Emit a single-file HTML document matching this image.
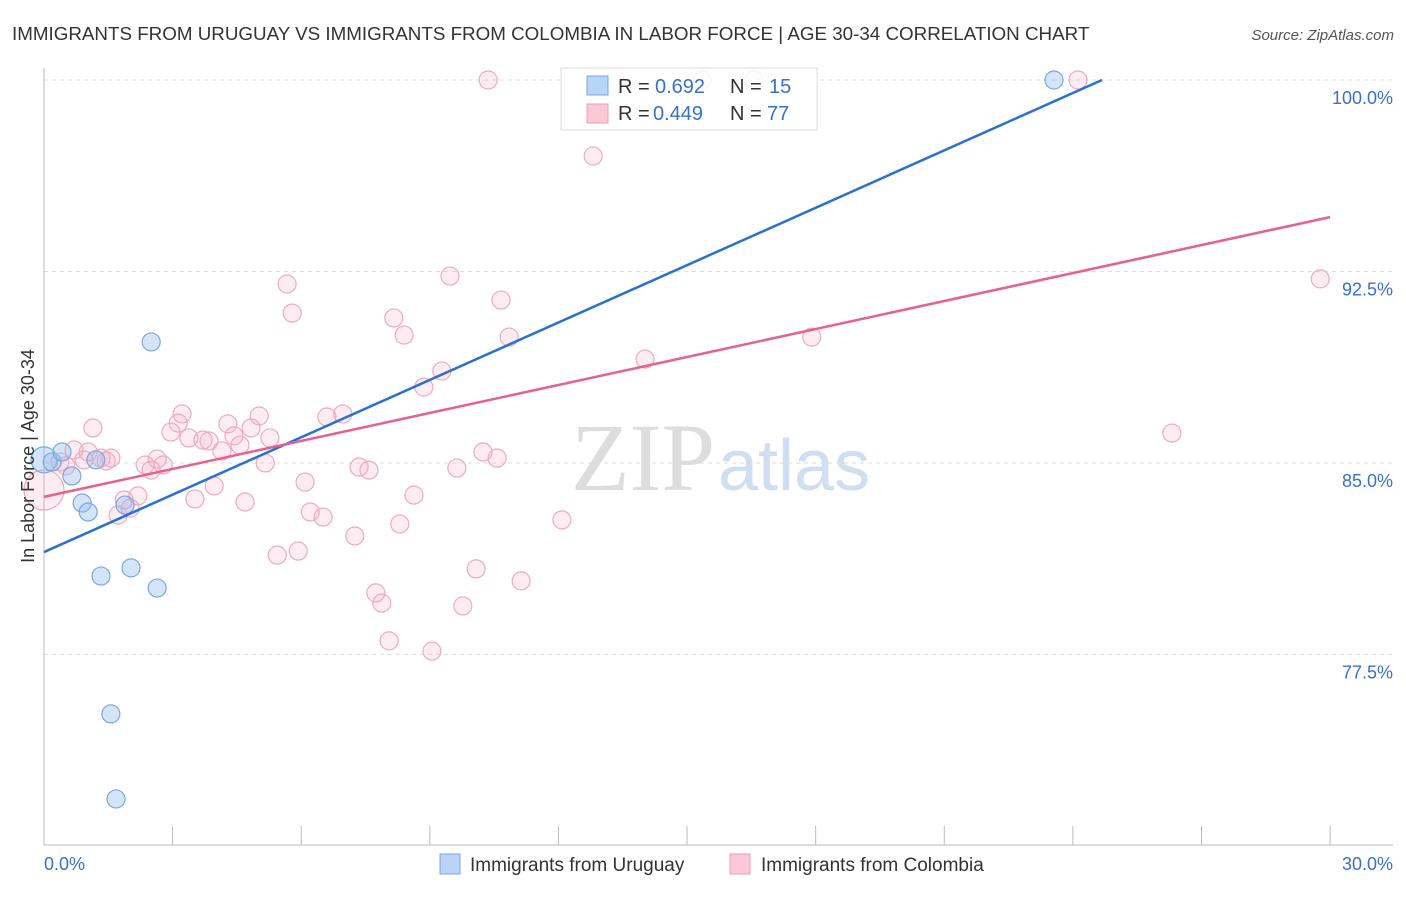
<!DOCTYPE html>
<html><head><meta charset="utf-8"><style>
body{margin:0;background:#fff;font-family:"Liberation Sans",sans-serif}
</style></head><body>
<svg width="1406" height="892" xmlns="http://www.w3.org/2000/svg" font-family="Liberation Sans, sans-serif">
<text x="12" y="40" font-size="18.8" fill="#333">IMMIGRANTS FROM URUGUAY VS IMMIGRANTS FROM COLOMBIA IN LABOR FORCE | AGE 30-34 CORRELATION CHART</text>
<text x="1394" y="40" font-size="15" fill="#555" font-style="italic" text-anchor="end">Source: ZipAtlas.com</text>
<text x="715" y="490" font-size="96" fill="#ddd" text-anchor="end" font-family="Liberation Serif, serif">ZIP</text>
<text x="718" y="490" font-size="72" fill="#d0def2">atlas</text>
<g id="grid"></g>
<g id="axes"></g>
<g id="pts"></g>
<g id="lines"></g>
<text transform="translate(34,456) rotate(-90)" font-size="18" fill="#333" text-anchor="middle">In Labor Force | Age 30-34</text>
<g>
<rect x="561" y="68" width="256" height="62" fill="#fff" fill-opacity="0.85" stroke="#ddd"/>
<rect x="587" y="76" width="21" height="19" fill="#b8d4f6" stroke="#7aa8e0"/>
<rect x="587" y="104" width="21" height="19" fill="#fcc8d8" stroke="#eba0b8"/>
<text x="618" y="93" font-size="20" fill="#333">R =</text>
<text x="655" y="93" font-size="20" fill="#3a70cc">0.692</text>
<text x="730" y="93" font-size="20" fill="#333">N =</text>
<text x="769" y="93" font-size="20" fill="#3a70cc">15</text>
<text x="618" y="120" font-size="20" fill="#333">R =</text>
<text x="653" y="120" font-size="20" fill="#3a70cc">0.449</text>
<text x="730" y="120" font-size="20" fill="#333">N =</text>
<text x="767" y="120" font-size="20" fill="#3a70cc">77</text>
</g>
<g>
<rect x="440" y="854" width="20" height="20" fill="#b8d4f6" stroke="#7aa8e0"/>
<text x="470" y="871" font-size="19" fill="#333">Immigrants from Uruguay</text>
<rect x="730" y="854" width="20" height="20" fill="#fcc8d8" stroke="#eba0b8"/>
<text x="761" y="871" font-size="19" fill="#333">Immigrants from Colombia</text>
</g>
</svg>
<script>
const yTicks=[100,92.5,85,77.5];
const yTickLabels=["100.0%","92.5%","85.0%","77.5%"];
const xTickLabels=["0.0%","30.0%"];
const uruguayX=[0,0.19,0.42,0.65,0.89,1.03,1.21,1.33,1.56,1.68,1.89,2.03,2.50,2.64,23.56];
const uruguayY=[85.12,85.04,85.43,84.49,83.43,83.08,85.12,80.57,75.17,71.84,83.35,80.89,89.74,80.10,100];
const colombiaX=[0,0.37,0.51,0.70,0.93,1.03,1.14,1.33,1.45,1.56,1.73,1.87,2.01,2.19,2.36,2.50,2.64,2.78,2.96,3.13,3.22,3.38,3.52,3.71,3.85,3.97,4.15,4.29,4.43,4.57,4.69,4.83,5.02,5.16,5.27,5.44,5.67,5.79,5.93,6.09,6.21,6.51,6.60,6.97,7.25,7.35,7.58,7.74,7.88,8.05,8.16,8.30,8.40,8.63,8.86,9.05,9.28,9.47,9.63,9.77,10.08,10.24,10.36,10.57,10.66,10.85,11.13,12.08,12.81,14.02,15.35,16.56,17.91,24.12,26.31,29.77];
const colombiaY=[83.94,85.04,84.88,85.51,85.12,85.43,86.37,85.19,85.08,85.19,82.96,83.55,83.23,83.71,84.92,84.72,85.15,84.92,86.21,86.56,86.92,85.98,83.59,85.90,85.86,84.10,85.47,86.53,86.06,85.70,83.47,86.37,86.84,85.00,85.98,81.39,92.01,90.87,81.55,84.25,83.08,82.88,86.80,86.92,82.14,84.84,84.72,79.91,79.51,78.03,90.68,82.61,90.01,83.74,87.97,77.63,88.60,92.32,84.80,79.40,80.85,85.43,100,85.19,91.38,89.93,80.38,82.77,97.02,89.07,100,100,89.93,100,86.17,92.21];
const uruguayTrend=[[0,81.51],[24.68,100]];
const colombiaTrend=[[0,83.67],[30,94.63]];
const NS="http://www.w3.org/2000/svg";
const sx=v=>44+v*42.87, sy=v=>80+(100-v)*25.53;
function mk(tag,attrs,parent){const e=document.createElementNS(NS,tag);for(const k in attrs)e.setAttribute(k,attrs[k]);document.getElementById(parent).appendChild(e);return e;}
yTicks.forEach((t,i)=>{
 const l=mk('line',{x1:44,x2:1393,y1:sy(t),y2:sy(t),stroke:'#ddd','stroke-dasharray':'4,4'},'grid');
 
 
 const tx=mk('text',{x:1393,y:sy(t)+24,'font-size':18,fill:'#3a70cc','text-anchor':'end'},'grid');
 tx.textContent=yTickLabels[i];
 
 
});
let a=mk('line',{x1:44,x2:44,y1:68,y2:845,stroke:'#bbb'},'axes');


a=mk('line',{x1:44,x2:1393,y1:845,y2:845,stroke:'#bbb'},'axes');


for(let i=1;i<=10;i++){const t=mk('line',{x1:sx(i*3),x2:sx(i*3),y1:826,y2:845,stroke:'#bbb'},'axes');
 
 }
[[0,'start',44],[30,'end',1393]].forEach((d,i)=>{const t=mk('text',{x:d[2],y:870,'font-size':18,fill:'#3a70cc','text-anchor':d[1]},'axes');t.textContent=xTickLabels[i];
 
 });
colombiaX.forEach((x,i)=>{const c=mk('circle',{cx:sx(x),cy:sy(colombiaY[i]),r:i==0?20:9,fill:'rgba(246,170,196,0.22)',stroke:'#eeaac0','stroke-width':1.2},'pts');
 
 });
uruguayX.forEach((x,i)=>{const c=mk('circle',{cx:sx(x),cy:sy(uruguayY[i]),r:i==0?13:9,fill:'rgba(150,190,240,0.4)',stroke:'#7aa8e0','stroke-width':1.2},'pts');
 
 });
let ln=mk('line',{x1:sx(uruguayTrend[0][0]),y1:sy(uruguayTrend[0][1]),x2:sx(uruguayTrend[1][0]),y2:sy(uruguayTrend[1][1]),stroke:'#2a6fd6','stroke-width':2.5},'lines');


ln=mk('line',{x1:sx(colombiaTrend[0][0]),y1:sy(colombiaTrend[0][1]),x2:sx(colombiaTrend[1][0]),y2:sy(colombiaTrend[1][1]),stroke:'#e8608e','stroke-width':2.5},'lines');


</script>
</body></html>
